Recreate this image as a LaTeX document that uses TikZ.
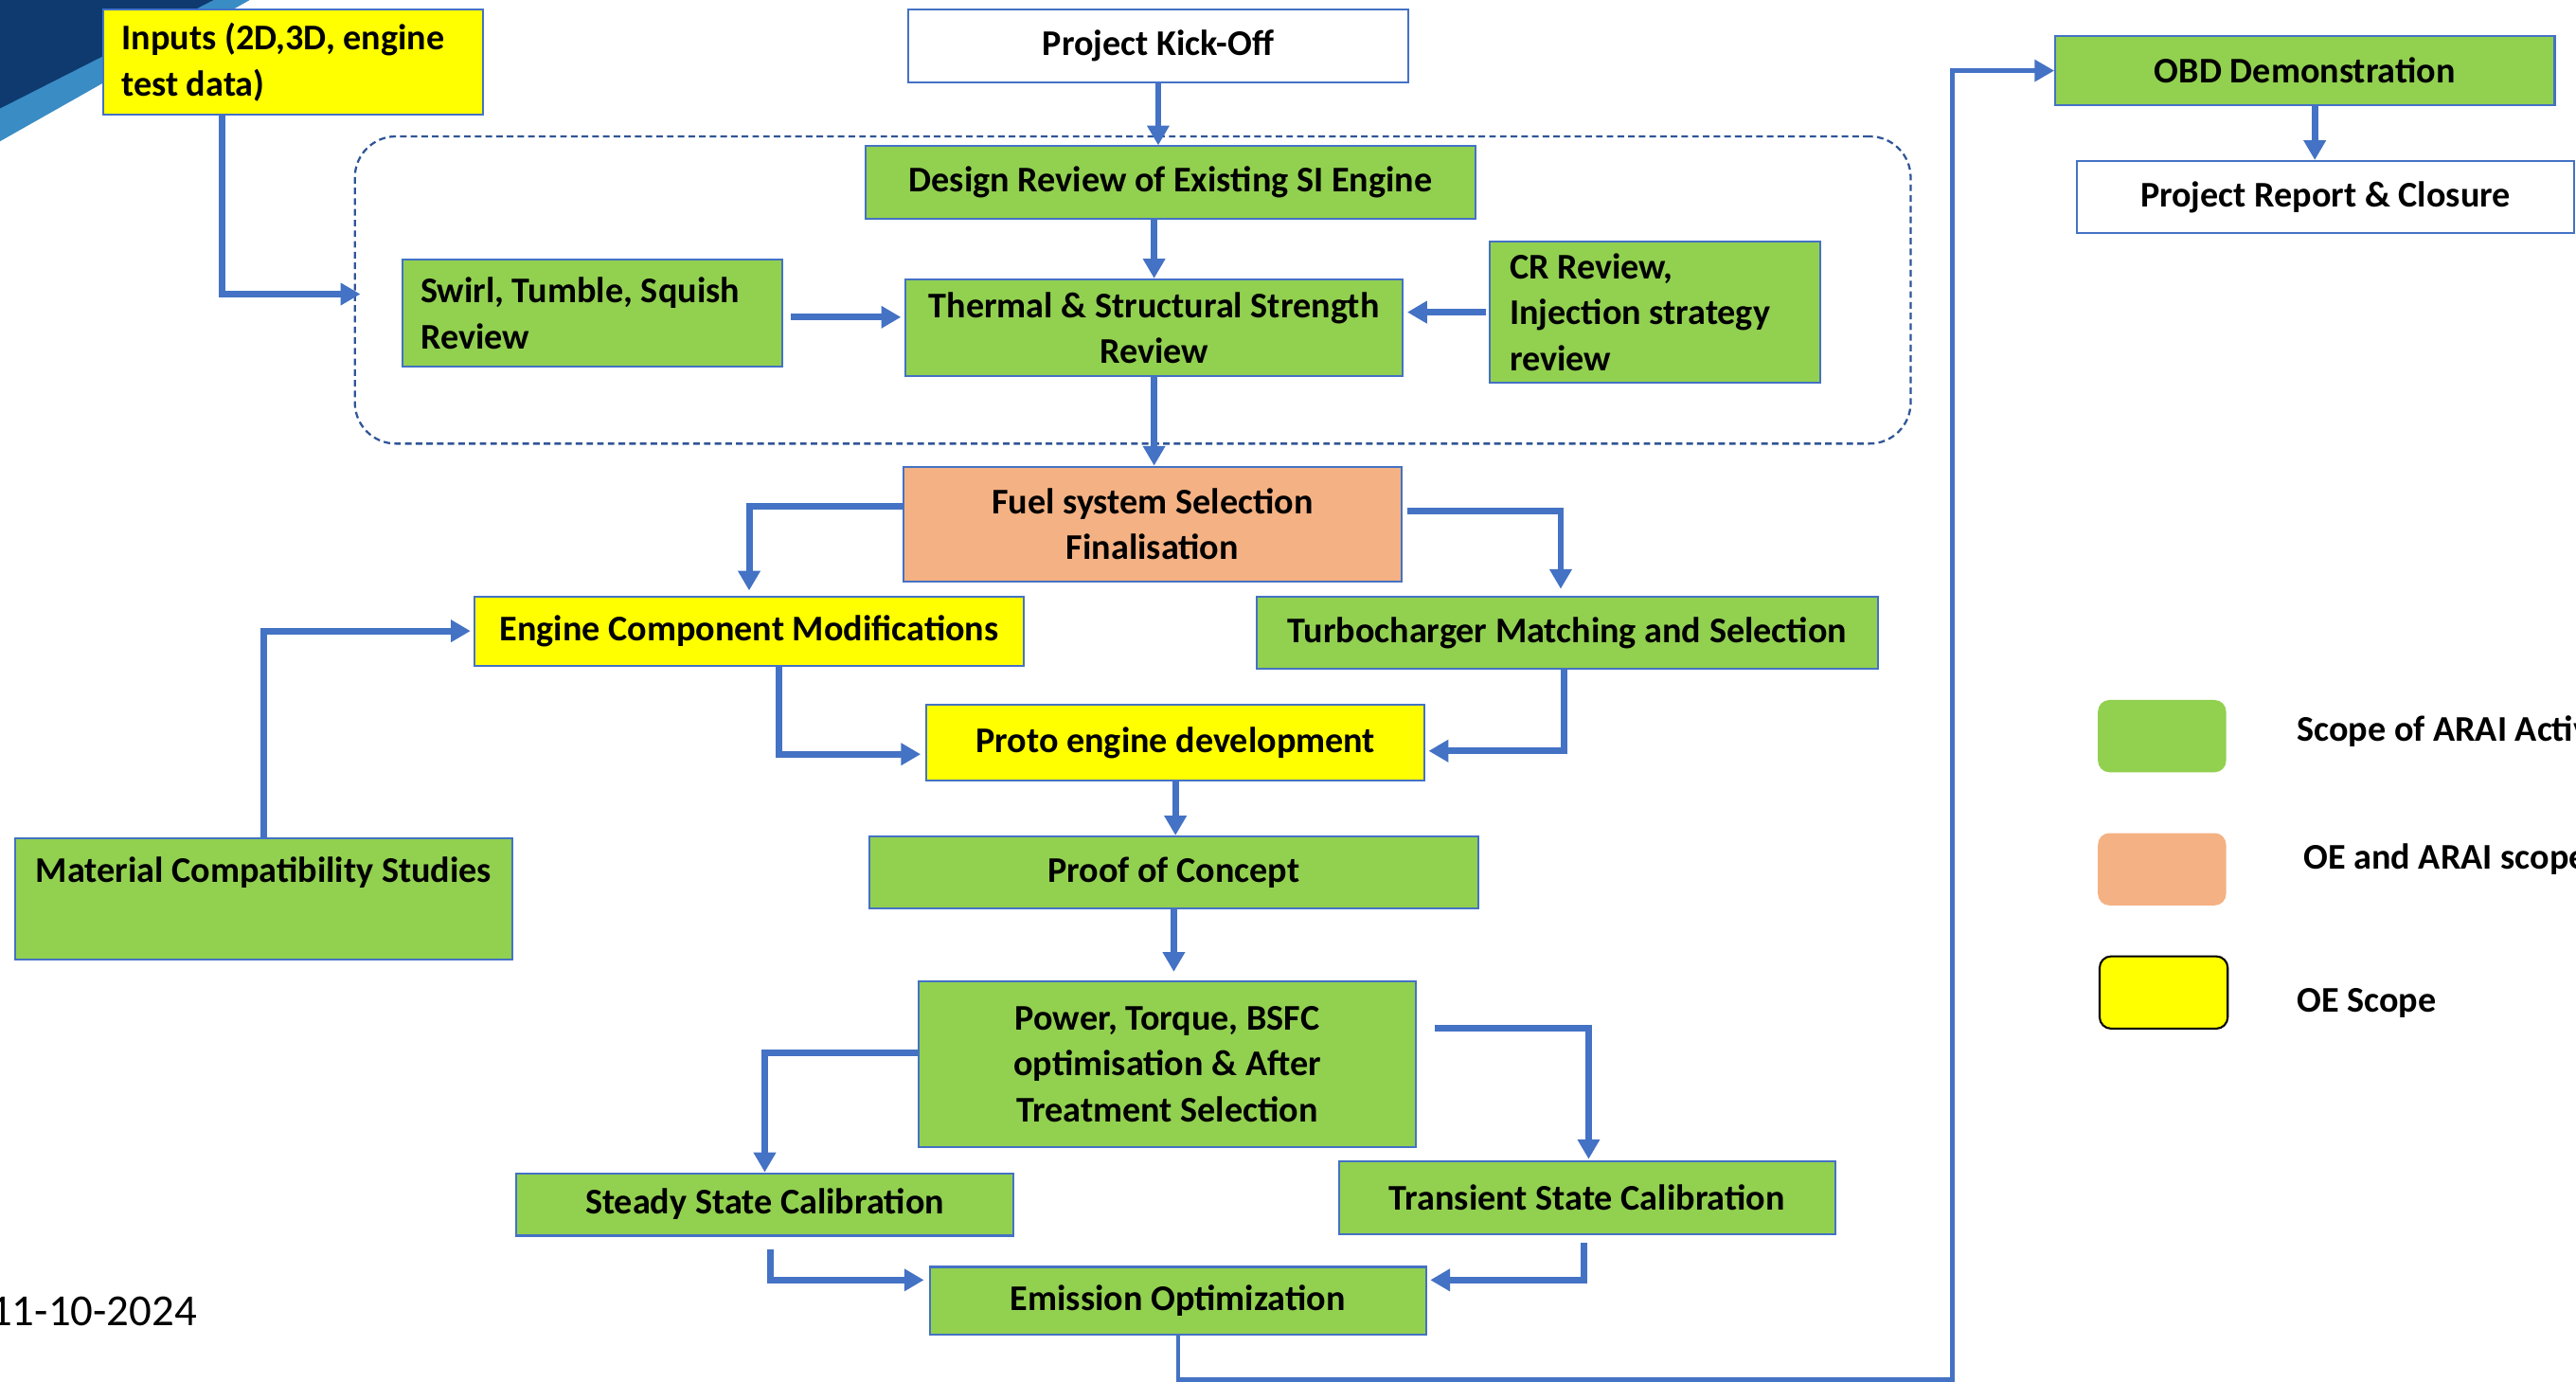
\documentclass[tikz,border=0pt]{standalone}
\usepackage{fontspec}
\setmainfont{Carlito}
\usetikzlibrary{arrows.meta,calc}
\definecolor{gfill}{HTML}{92D050}
\definecolor{ofill}{HTML}{F4B183}
\definecolor{yfill}{HTML}{FFFF00}
\definecolor{bord}{HTML}{4472C4}
\definecolor{arrowblue}{HTML}{4472C4}
\definecolor{dashblue}{HTML}{2F5597}
\definecolor{navy}{HTML}{0E3A70}
\definecolor{lightband}{HTML}{3A8CC4}
\begin{document}
\begin{tikzpicture}[x=1pt,y=-1pt,
  box/.style={draw=bord, line width=1.2pt, inner sep=0pt, align=center,
    font=\bfseries\fontsize{22}{28}\selectfont},
  gbox/.style={box, fill=gfill},
  obox/.style={box, fill=ofill},
  ybox/.style={box, fill=yfill},
  wbox/.style={box, fill=white},
  leftbox/.style={align=flush left, inner xsep=11pt},
  arr/.style={draw=arrowblue, line width=4pt, -{Triangle[length=12pt,width=13pt]}},
  legbox/.style={rounded corners=7pt, minimum width=78pt, minimum height=44pt, inner sep=0pt},
  legtext/.style={anchor=base west, inner sep=0pt, font=\bfseries\fontsize{22}{28}\selectfont}
]
\useasboundingbox (0,0) rectangle (1568,841);
\clip (0,0) rectangle (1568,841);

% corner decoration
\fill[lightband] (0,63) -- (127,0) -- (152,0) -- (0,86) -- cycle;
\fill[navy] (0,0) -- (130,0) -- (0,66) -- cycle;

% dashed group
\node[draw=dashblue, line width=1.3pt, dash pattern=on 4pt off 2.5pt, rounded corners=25pt,
  minimum width=947pt, minimum height=187pt, inner sep=0pt] (grp) at (689.5,176.5) {};

% nodes
\node[ybox, leftbox, text width=209pt, minimum height=64pt] (inputs) at (178.5,38) {Inputs (2D,3D, engine\\test data)};
\node[wbox, minimum width=304pt, minimum height=44pt] (kick) at (705,28) {Project Kick-Off};
\node[gbox, minimum width=371pt, minimum height=44pt] (design) at (712.5,111) {Design Review of Existing SI Engine};
\node[gbox, leftbox, text width=209pt, minimum height=65pt] (swirl) at (360.5,190.5) {Swirl, Tumble, Squish\\Review};
\node[gbox, minimum width=303pt, minimum height=59pt] (thermal) at (702.5,199.5) {Thermal \& Structural Strength\\Review};
\node[gbox, leftbox, inner xsep=12pt, text width=177pt, minimum height=86pt] (cr) at (1007.5,190) {CR Review,\\Injection strategy\\review};
\node[obox, minimum width=303pt, minimum height=70pt] (fuel) at (701.5,319) {Fuel system Selection\\Finalisation};
\node[ybox, minimum width=334pt, minimum height=42pt] (ecm) at (456,384) {Engine Component Modifications};
\node[gbox, minimum width=378pt, minimum height=44pt] (turbo) at (954,385) {Turbocharger Matching and Selection};
\node[ybox, minimum width=303pt, minimum height=46pt] (proto) at (715.5,452) {Proto engine development};
\node[gbox, minimum width=303pt, text height=27pt, text depth=47pt] (material) at (160.5,547) {Material Compatibility Studies};
\node[gbox, minimum width=371pt, minimum height=44pt] (proof) at (714.5,531) {Proof of Concept};
\node[gbox, minimum width=303pt, minimum height=101pt] (power) at (710.5,647.5) {Power, Torque, BSFC\\optimisation \& After\\Treatment Selection};
\node[gbox, minimum width=303pt, minimum height=38pt] (steady) at (465.5,733) {Steady State Calibration};
\node[gbox, minimum width=302pt, minimum height=44pt] (transient) at (966,729) {Transient State Calibration};
\node[gbox, minimum width=302pt, minimum height=41pt] (emission) at (717,791.5) {Emission Optimization};
\node[gbox, minimum width=304pt, minimum height=42pt] (obd) at (1403,43) {OBD Demonstration};
\node[wbox, minimum width=303pt, minimum height=44pt] (report) at (1415.5,120) {Project Report \& Closure};

% legend
\node[legbox, fill=gfill] (lg) at (1316,448) {};
\node[legbox, fill=ofill] (lo) at (1316,529) {};
\node[legbox, fill=yfill, draw=black, line width=1.2pt] (ly) at (1317,604) {};
\node[legtext] (lgt) at (1398,451) {Scope of ARAI Activities};
\node[legtext] (lot) at (1402,529) {OE and ARAI scope};
\node[legtext] (lyt) at (1398,616) {OE Scope};

% date
\node[anchor=base east, inner sep=0pt, font=\fontsize{27}{32}\selectfont] (date) at (120,807) {11-10-2024};

% connectors
\draw[arr] ([xshift=-43.5pt]inputs.south) |- ([xshift=4pt,yshift=-2.5pt]grp.west);
\draw[arr] (kick.south) -- (kick.south |- design.north);
\draw[arr] (design.south -| thermal.north) -- (thermal.north);
\draw[arr] ([xshift=5pt,yshift=-2.5pt]swirl.east) -- ([xshift=-2pt,yshift=-2.5pt]swirl.east -| thermal.west);
\draw[arr] ([xshift=-2pt]cr.west) -- ([xshift=2pt]cr.west -| thermal.east);
\draw[arr] (thermal.south) -- (thermal.south |- fuel.north);
\draw[arr] ([yshift=11pt]fuel.west) -| ([yshift=3pt]ecm.north);
\draw[arr] ([xshift=3pt,yshift=8pt]fuel.east) -| ([xshift=-4pt,yshift=4pt]turbo.north);
\draw[arr] ([xshift=18pt]ecm.south) |- ([xshift=-3pt,yshift=-7pt]proto.west);
\draw[arr] ([xshift=-2pt]turbo.south) |- ([xshift=2pt,yshift=-5pt]proto.east);
\draw[arr] (material.north) |- ([xshift=-2pt]ecm.west);
\draw[arr] (proto.south) -- (proto.south |- proof.north);
\draw[arr] (proof.south) -- ([yshift=5pt]proof.south |- power.north);
\draw[arr] ([yshift=6.5pt]power.west) -| (steady.north);
\draw[arr] ([xshift=11pt,yshift=21.5pt]power.east) -| ([xshift=1pt,yshift=1pt]transient.north);
\draw[arr] ([xshift=3.5pt,yshift=-8pt]steady.south) |- ([xshift=-3pt,yshift=12.5pt]emission.west);
\draw[arr] ([xshift=-2pt,yshift=-5pt]transient.south) |- ([xshift=2pt,yshift=12.5pt]emission.east);
\draw[arr, line width=2.6pt] (emission.south) -- ++(0,27) -| ([xshift=-62pt]obd.west) -- (obd.west);
\draw[arr] ([xshift=6pt]obd.south) -- ([xshift=6pt]obd.south |- report.north);
\end{tikzpicture}
\end{document}
